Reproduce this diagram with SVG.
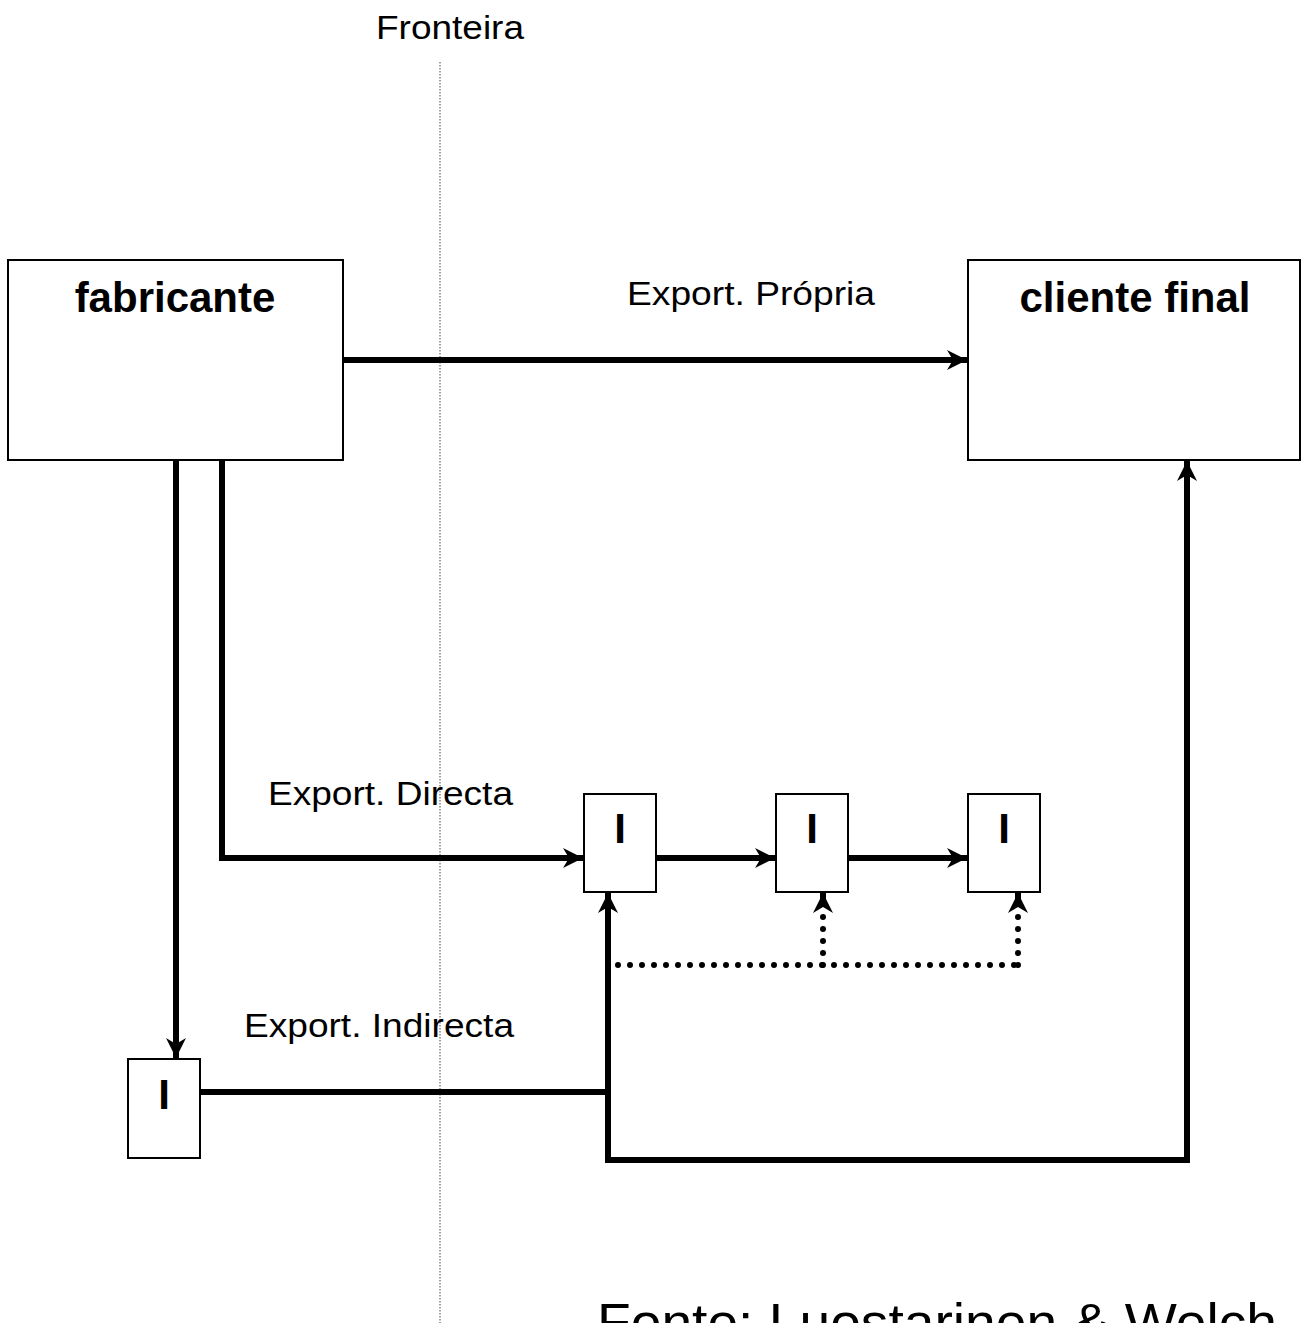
<svg xmlns="http://www.w3.org/2000/svg" width="1307" height="1323" viewBox="0 0 1307 1323">
<style>
.box{fill:#fff;stroke:#000;stroke-width:2}
.lbl{font-family:"Liberation Sans",Arial,sans-serif;font-size:33px;fill:#000}
.big{font-family:"Liberation Sans",Arial,sans-serif;font-size:42px;font-weight:bold;fill:#000;text-anchor:middle}
.con{fill:none;stroke:#000;stroke-width:6}
.dot{fill:none;stroke:#000;stroke-width:6;stroke-linecap:round;stroke-dasharray:0 12}
</style>
<defs>
<marker id="ah" markerUnits="userSpaceOnUse" markerWidth="20" markerHeight="20" refX="20" refY="10" orient="auto" viewBox="0 0 20 20">
<path d="M0,0 L20,10 L0,20 L6,10 z" fill="#000"/>
</marker>
</defs>
<g id="fronteira">
<line x1="440" y1="62" x2="440" y2="1323" stroke="#444" stroke-width="1" stroke-dasharray="1.5 1.5"/>
<text class="lbl" x="376" y="39" textLength="148" lengthAdjust="spacingAndGlyphs">Fronteira</text>
</g>
<g id="connectors">
<line class="con" x1="344" y1="360" x2="967" y2="360" marker-end="url(#ah)"/>
<polyline class="con" points="222,460 222,858 583,858" marker-end="url(#ah)"/>
<line class="con" x1="176" y1="460" x2="176" y2="1058" marker-end="url(#ah)"/>
<line class="con" x1="656" y1="858" x2="775" y2="858" marker-end="url(#ah)"/>
<line class="con" x1="848" y1="858" x2="967" y2="858" marker-end="url(#ah)"/>
<line class="con" x1="200" y1="1092" x2="611" y2="1092"/>
<line class="con" x1="608" y1="1163" x2="608" y2="893" marker-end="url(#ah)"/>
<polyline class="con" points="605,1160 1187,1160 1187,461" marker-end="url(#ah)"/>
<line class="dot" x1="618" y1="965" x2="1018" y2="965"/>
<line class="dot" x1="823" y1="965" x2="823" y2="905"/>
<line class="con" x1="823" y1="905" x2="823" y2="893" stroke-width="2" marker-end="url(#ah)"/>
<line class="dot" x1="1018" y1="965" x2="1018" y2="905"/>
<line class="con" x1="1018" y1="905" x2="1018" y2="893" stroke-width="2" marker-end="url(#ah)"/>
</g>
<g id="fabricante">
<rect class="box" x="8" y="260" width="335" height="200"/>
<text class="big" x="175" y="312">fabricante</text>
</g>
<g id="cliente-final">
<rect class="box" x="968" y="260" width="332" height="200"/>
<text class="big" x="1135" y="312">cliente final</text>
</g>
<g id="i1">
<rect class="box" x="584" y="794" width="72" height="98"/>
<text class="big" x="620" y="843">I</text>
</g>
<g id="i2">
<rect class="box" x="776" y="794" width="72" height="98"/>
<text class="big" x="812" y="843">I</text>
</g>
<g id="i3">
<rect class="box" x="968" y="794" width="72" height="98"/>
<text class="big" x="1004" y="843">I</text>
</g>
<g id="i4">
<rect class="box" x="128" y="1059" width="72" height="99"/>
<text class="big" x="164" y="1109">I</text>
</g>
<g id="labels">
<text class="lbl" x="627" y="305" textLength="248" lengthAdjust="spacingAndGlyphs">Export. Própria</text>
<text class="lbl" x="268" y="805" textLength="245" lengthAdjust="spacingAndGlyphs">Export. Directa</text>
<text class="lbl" x="244" y="1037" textLength="270" lengthAdjust="spacingAndGlyphs">Export. Indirecta</text>
<text class="lbl" x="597" y="1340" style="font-size:52px" textLength="680" lengthAdjust="spacingAndGlyphs">Fonte: Luostarinen &amp; Welch</text>
</g>
</svg>
